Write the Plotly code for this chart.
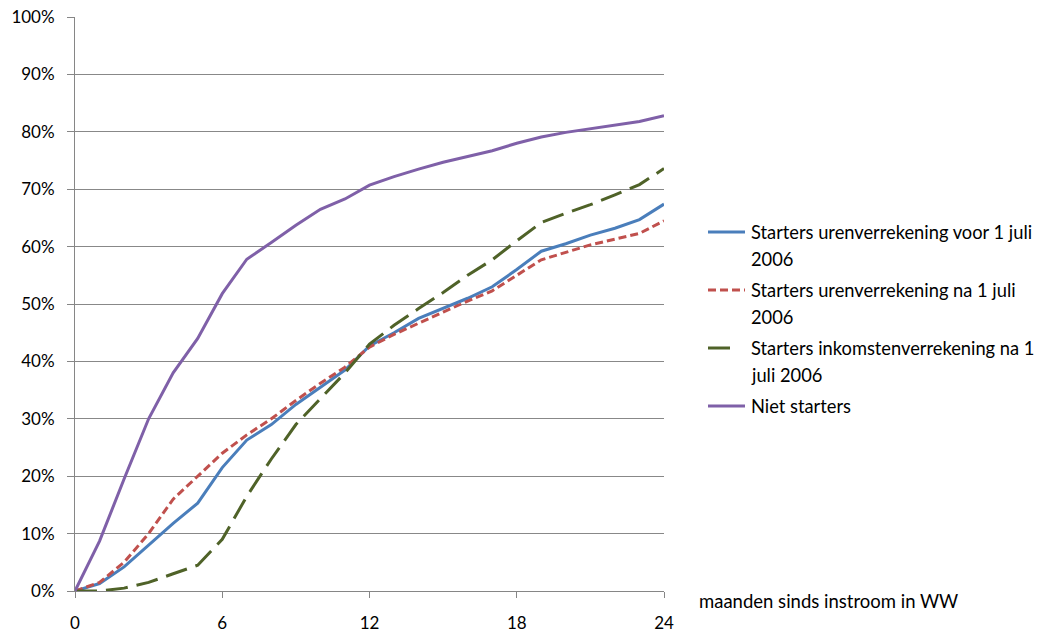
import plotly.graph_objects as go

months = list(range(0, 25))
starters_uren_voor = [0, 1.3, 4.2, 8, 11.8, 15.3, 21.5, 26.3, 29, 32.5, 35.5, 38.5, 42.7, 45, 47.5, 49.2,
                      51, 53, 56, 59.2, 60.5, 62, 63.2, 64.7, 67.4]
starters_uren_na = [0, 1.5, 5, 10, 16, 20, 24, 27.2, 30, 33.2, 36.2, 39, 42.5, 44.7, 46.7, 48.6,
                    50.5, 52.3, 55, 57.7, 59, 60.3, 61.3, 62.3, 64.5]
starters_inkomsten_na = [0, 0, 0.5, 1.5, 3, 4.5, 9, 16.5, 23, 29, 33.5, 38, 43, 46.3, 49.2, 52,
                         55, 57.7, 61, 64.2, 65.8, 67.3, 69, 70.8, 73.6]
niet_starters = [0, 8.7, 19.5, 30, 38, 44, 51.8, 57.8, 60.7, 63.7, 66.5, 68.3, 70.7, 72.2, 73.5, 74.7,
                 75.7, 76.7, 78, 79.1, 79.9, 80.5, 81.2, 81.8, 82.8]
y_ticks = [0, 10, 20, 30, 40, 50, 60, 70, 80, 90, 100]
y_tick_labels = ["0%", "10%", "20%", "30%", "40%", "50%", "60%", "70%", "80%", "90%", "100%"]
x_ticks = [0, 6, 12, 18, 24]

legend_lines = [["Starters urenverrekening voor 1 juli", "2006"],
                ["Starters urenverrekening na 1 juli", "2006"],
                ["Starters inkomstenverrekening na 1", "juli 2006"],
                ["Niet starters"]]
series = [starters_uren_voor, starters_uren_na, starters_inkomsten_na, niet_starters]
colors = ["#4A7EBB", "#C0504D", "#4F6228", "#7F60A8"]
dashes = ["solid", "8px,4px", "22px,9px", "solid"]

W, H = 1046, 635
L, R, T, B = 75, 664, 17, 591  # plot area in page pixels


def px_x(p):
    return (p - L) / (R - L)


def px_y(p):
    return (B - p) / (B - T)


FONT = "Lato, Carlito, Calibri, sans-serif"

fig = go.Figure()
for lines, vals, c, d in zip(legend_lines, series, colors, dashes):
    fig.add_trace(go.Scatter(
        x=months, y=vals, mode="lines", name=" ".join(lines),
        showlegend=False, line=dict(color=c, width=3, dash=d)))

shapes = []
annotations = []
item_top = [232, 290, 348, 406]
sample_end = [745, 745, 732, 745]
for i, lines in enumerate(legend_lines):
    yy = px_y(item_top[i])
    shapes.append(dict(type="line", xref="paper", yref="paper",
                       x0=px_x(708), x1=px_x(sample_end[i]), y0=yy, y1=yy,
                       line=dict(color=colors[i], width=3, dash=dashes[i])))
    for j, txt in enumerate(lines):
        annotations.append(dict(text=txt, xref="paper", yref="paper",
                                x=px_x(749), y=px_y(item_top[i] + 27 * j),
                                xanchor="left", yanchor="middle", showarrow=False,
                                font=dict(family=FONT, size=18.3, color="#000000")))

annotations.append(dict(text="maanden sinds instroom in WW", xref="paper", yref="paper",
                        x=px_x(697), y=px_y(601), xanchor="left", yanchor="middle",
                        showarrow=False, font=dict(family=FONT, size=18.5, color="#000000")))

axis_font = dict(family=FONT, size=17, color="#000000")
fig.update_layout(
    width=W, height=H,
    margin=dict(l=L, r=W - R, t=T, b=H - B),
    paper_bgcolor="white", plot_bgcolor="white",
    showlegend=False,
    hovermode=False,
    shapes=shapes,
    annotations=annotations,
    xaxis=dict(range=[0, 24], tickmode="array", tickvals=x_ticks, showgrid=False,
               showline=True, linecolor="#868686", linewidth=1,
               ticks="outside", ticklen=6, tickcolor="#868686",
               ticklabelstandoff=11, automargin=False,
               tickfont=axis_font, zeroline=False, fixedrange=True),
    yaxis=dict(range=[0, 100], tickmode="array", tickvals=y_ticks, ticktext=y_tick_labels,
               showgrid=True, gridcolor="#888888", gridwidth=1, showline=True,
               linecolor="#868686", linewidth=1, ticks="outside", ticklen=7,
               tickcolor="#868686", ticklabelstandoff=9, automargin=False,
               ticklabeloverflow="allow",
               tickfont=axis_font, zeroline=False, fixedrange=True),
)
fig.write_html("out.html",
               config={"displayModeBar": False, "staticPlot": True},
               post_script="document.body.style.margin='0';document.body.style.overflow='hidden';")
